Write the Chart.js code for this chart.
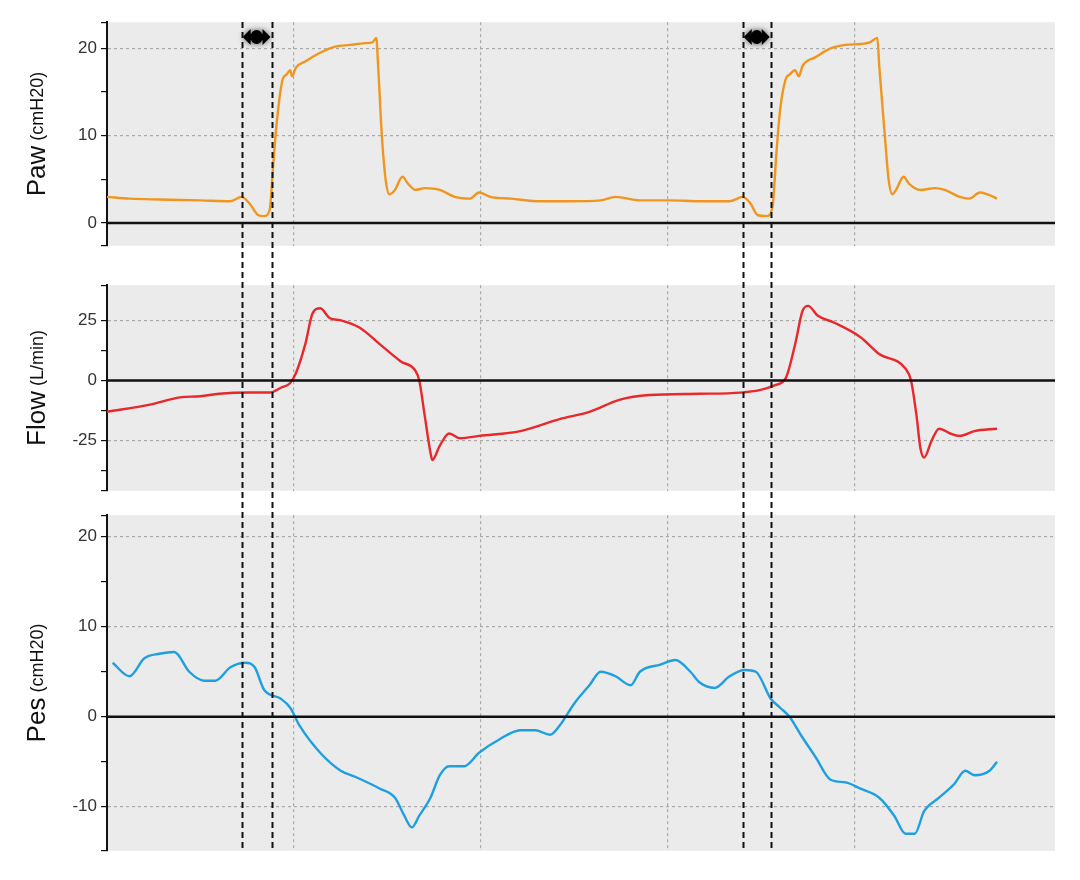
<!DOCTYPE html>
<html><head><meta charset="utf-8">
<script src="https://cdn.jsdelivr.net/npm/chart.js@4/dist/chart.umd.min.js"></script>
<style>body{margin:0;background:#fff;width:1080px;height:880px;position:relative;overflow:hidden}
.p{position:absolute;left:0;width:1080px}</style></head><body>
<div class="p" style="top:8px;height:252px"><canvas id="c1"></canvas></div>
<div class="p" style="top:271px;height:234px"><canvas id="c2"></canvas></div>
<div class="p" style="top:501px;height:364px"><canvas id="c3"></canvas></div>
<canvas id="ov" width="1080" height="880" style="position:absolute;left:0;top:0;pointer-events:none"></canvas>
<script>
// time in seconds
const pawT=[0,.12,.28,.50,.66,.72,.76,.81,.84,.87,.89,.91,.94,.96,.98,.99,1.01,1.06,1.14,1.22,1.30,1.38,1.42,1.44,1.45,1.47,1.49,1.51,1.54,1.58,1.61,1.65,1.70,1.78,1.86,1.94,1.99,2.05,2.16,2.32,2.48,2.64,2.72,2.85,3.01,3.17,3.33,3.40,3.44,3.48,3.53,3.56,3.58,3.60,3.63,3.65,3.68,3.70,3.72,3.79,3.87,3.95,4.03,4.08,4.12,4.13,4.16,4.18,4.20,4.22,4.26,4.29,4.35,4.43,4.48,4.56,4.61,4.67,4.72,4.76];
const pawV=[3.0,2.8,2.7,2.6,2.5,3.0,2.3,0.9,0.8,1.5,7,12,16.5,17,17.5,16.8,17.8,18.5,19.5,20.2,20.4,20.6,20.7,21.2,18,10,5,3.3,3.8,5.3,4.5,3.8,4.0,3.8,3.0,2.8,3.5,3.0,2.8,2.5,2.5,2.6,3.0,2.6,2.6,2.5,2.5,3.0,2.3,0.9,0.8,2,8,13,16.5,17,17.5,16.8,18,19,20,20.4,20.5,20.7,21.2,18,10,5,3.3,3.8,5.3,4.5,3.8,4.0,3.8,3.0,2.8,3.5,3.2,2.8];
const flowT=[0,.23,.39,.50,.60,.76,.87,.93,.98,1.01,1.06,1.10,1.14,1.19,1.25,1.35,1.46,1.57,1.65,1.67,1.70,1.73,1.74,1.78,1.83,1.89,1.99,2.21,2.42,2.58,2.74,2.90,3.17,3.39,3.49,3.57,3.63,3.68,3.72,3.75,3.80,3.89,4.03,4.13,4.27,4.30,4.33,4.35,4.37,4.41,4.45,4.51,4.56,4.64,4.76];
const flowV=[-13,-10,-7,-6.5,-5.5,-5,-5,-3,-1,3,15,28,30,26,25,22,15,8,4,0,-15,-30,-33,-27,-22,-24,-23,-21,-16,-13,-8,-6,-5.5,-5,-4,-2,1,15,29,31,27,24,18,11,5,0,-15,-28,-32,-25,-20,-22,-23,-21,-20];
const pesT=[.03,.12,.20,.28,.36,.44,.52,.58,.66,.74,.79,.84,.93,.98,1.03,1.14,1.25,1.33,1.46,1.54,1.59,1.63,1.67,1.73,1.78,1.83,1.91,1.99,2.10,2.21,2.29,2.37,2.42,2.50,2.58,2.64,2.72,2.80,2.85,2.96,3.04,3.12,3.17,3.25,3.33,3.41,3.47,3.55,3.60,3.65,3.71,3.79,3.87,3.95,4.03,4.13,4.21,4.27,4.32,4.37,4.45,4.53,4.59,4.64,4.72,4.76];
const pesV=[6,4.5,6.5,7,7.2,5,4,4,5.5,6,5.5,3,2,1,-1,-4,-6,-6.7,-8,-9,-11,-12.3,-11,-9,-6.5,-5.5,-5.5,-4,-2.5,-1.5,-1.5,-2,-1,1.5,3.5,5,4.5,3.5,5,5.8,6.3,5,3.8,3.2,4.5,5.2,5,2,1,0,-2,-4.5,-7,-7.3,-8,-9,-11,-13,-13,-10.5,-9,-7.5,-6,-6.5,-6,-5];
const markerT=[0.72,0.88,3.40,3.55];

const bgPlug={id:'bg',beforeDraw(c){const a=c.chartArea,x=c.ctx;x.save();x.fillStyle='#ebebeb';x.fillRect(a.left,a.top,a.right-a.left,a.bottom-a.top);x.restore();},
 afterDatasetsDraw(c){const a=c.chartArea,x=c.ctx,y=c.scales.y.getPixelForValue(0);x.save();x.strokeStyle='#111';x.lineWidth=2.5;x.beginPath();x.moveTo(a.left,y);x.lineTo(a.right,y);x.stroke();
 const o=c.options.plugins.ttl;x.translate(38,(a.top+a.bottom)/2);x.rotate(-Math.PI/2);x.fillStyle='#111';x.textBaseline='middle';
 x.font='26px "Liberation Sans",Arial';const w1=x.measureText(o.a).width;x.font='18px "Liberation Sans",Arial';const w2=x.measureText(' '+o.b).width;
 let s=-(w1+w2)/2;x.font='26px "Liberation Sans",Arial';x.textAlign='left';x.fillText(o.a,s,0);x.font='18px "Liberation Sans",Arial';x.fillText(' '+o.b,s+w1,0);x.restore();}};

function mk(id,T,V,col,min,max,step,lab,a,b){
 return new Chart(document.getElementById(id),{type:'line',
 data:{datasets:[{data:T.map((t,i)=>({x:t,y:V[i]})),borderColor:col,borderWidth:2.4,pointRadius:0,cubicInterpolationMode:'monotone',fill:false}]},
 options:{animation:false,responsive:true,maintainAspectRatio:false,layout:{padding:{right:25}},
 plugins:{legend:{display:false},tooltip:{enabled:false},ttl:{a,b}},
 scales:{x:{type:'linear',min:0,max:5.07,afterFit(s){s.height=0},ticks:{display:false,stepSize:1},border:{display:false,dash:[3,3]},
   grid:{drawTicks:false,color:ctx=>(ctx.tick&&ctx.tick.value>0&&Number.isInteger(ctx.tick.value))?'#aaaaaa':'transparent',lineWidth:1.2}},
  y:{min,max,afterFit(s){s.width=107},border:{color:'#111',width:2,dash:[3,3]},
   ticks:{stepSize:step,color:'#333',font:{size:17,family:'"Liberation Sans",Arial'},padding:4,callback:v=>(Math.abs(v%lab)<1e-6)?String(v):''},
   grid:{tickLength:6,tickColor:'#111',color:ctx=>(ctx.tick&&Math.abs(ctx.tick.value%lab)<1e-6&&ctx.tick.value!==0)?'#aaaaaa':'transparent',lineWidth:1.2}}}},
 plugins:[bgPlug]});}
const c1=mk('c1',pawT,pawV,'#f0961e',-2.6,23,5,10,'Paw','(cmH20)');
const c2=mk('c2',flowT,flowV,'#e8282a',-45.8,39.6,12.5,25,'Flow','(L/min)');
const c3=mk('c3',pesT,pesV,'#1ea0e0',-14.9,22.4,5,10,'Pes','(cmH20)');
const ov=document.getElementById('ov').getContext('2d');
const xs=c1.scales.x;
ov.strokeStyle='#111';ov.lineWidth=2;ov.setLineDash([6,4]);
markerT.forEach(t=>{const p=Math.round(xs.getPixelForValue(t))+0.5;ov.beginPath();ov.moveTo(p,22);ov.lineTo(p,850);ov.stroke();});
ov.setLineDash([]);
function arrow(x1,x2,y){ov.save();ov.fillStyle='#000';ov.shadowColor='rgba(0,0,0,0.6)';ov.shadowBlur=6;
 const m=(x1+x2)/2;ov.beginPath();ov.moveTo(x1+1,y);ov.lineTo(x1+9,y-8);ov.lineTo(x1+9,y-3);ov.lineTo(x2-9,y-3);ov.lineTo(x2-9,y-8);ov.lineTo(x2-1,y);ov.lineTo(x2-9,y+8);ov.lineTo(x2-9,y+3);ov.lineTo(x1+9,y+3);ov.lineTo(x1+9,y+8);ov.closePath();ov.fill();
 ov.beginPath();ov.ellipse(m,y,6,7,0,0,Math.PI*2);ov.fill();ov.restore();}
arrow(xs.getPixelForValue(markerT[0]),xs.getPixelForValue(markerT[1]),37);
arrow(xs.getPixelForValue(markerT[2]),xs.getPixelForValue(markerT[3]),37);
</script></body></html>
